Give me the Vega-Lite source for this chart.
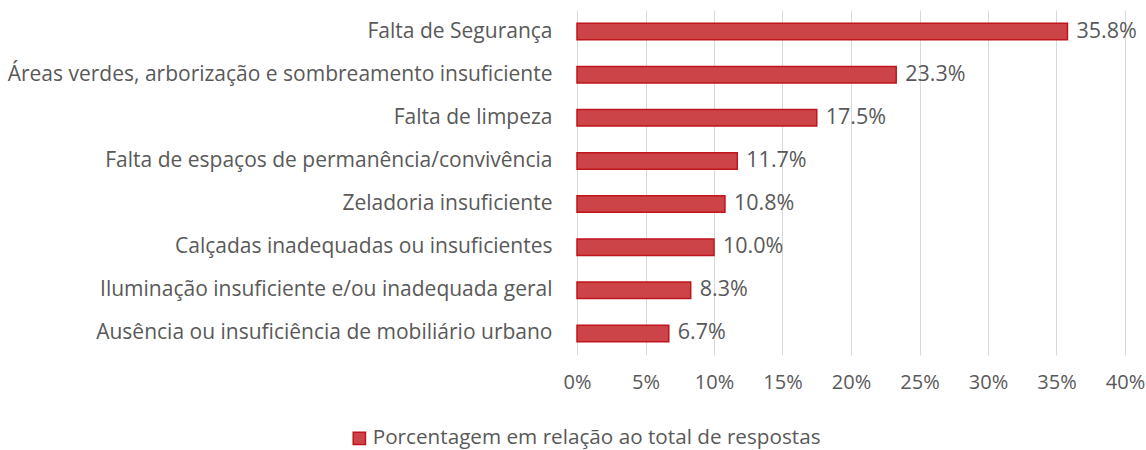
{
  "$schema": "https://vega.github.io/schema/vega-lite/v6.json",
  "width": 548,
  "height": 345,
  "autosize": {"type": "none"},
  "padding": {"left": 577, "top": 10, "right": 21, "bottom": 95},
  "background": "white",
  "config": {
    "view": {"stroke": null},
    "font": "Open Sans",
    "axis": {"labelFont": "Open Sans", "labelColor": "#595959", "labelFontSize": 20},
    "legend": {"labelFont": "Open Sans", "labelColor": "#595959", "labelFontSize": 20.7}
  },
  "data": {
    "values": [
      {"categoria": "Falta de Segurança", "valor": 0.358},
      {"categoria": "Áreas verdes, arborização e sombreamento insuficiente", "valor": 0.233},
      {"categoria": "Falta de limpeza", "valor": 0.175},
      {"categoria": "Falta de espaços de permanência/convivência", "valor": 0.117},
      {"categoria": "Zeladoria insuficiente", "valor": 0.108},
      {"categoria": "Calçadas inadequadas ou insuficientes", "valor": 0.100},
      {"categoria": "Iluminação insuficiente e/ou inadequada geral", "valor": 0.083},
      {"categoria": "Ausência ou insuficiência de mobiliário urbano", "valor": 0.067}
    ]
  },
  "encoding": {
    "y": {
      "field": "categoria",
      "type": "nominal",
      "sort": null,
      "title": null,
      "scale": {"paddingInner": 0.62, "paddingOuter": 0.31},
      "axis": {"domain": false, "ticks": false, "labelPadding": 25, "labelLimit": 700, "labelFontSize": 21}
    },
    "x": {
      "field": "valor",
      "type": "quantitative",
      "title": null,
      "scale": {"domain": [0, 0.4], "nice": false},
      "axis": {"format": ".0%", "values": [0, 0.05, 0.1, 0.15, 0.2, 0.25, 0.3, 0.35, 0.4], "domain": false, "ticks": false, "gridColor": "#d9d9d9", "labelPadding": 17, "labelFlush": false}
    }
  },
  "layer": [
    {
      "mark": {"type": "bar", "stroke": "#c0151c", "strokeWidth": 1.5},
      "encoding": {
        "color": {
          "datum": "Porcentagem em relação ao total de respostas",
          "type": "nominal",
          "scale": {"range": ["#cd4448"]},
          "legend": {"title": null, "orient": "none", "legendX": -228, "legendY": 418, "symbolType": "square", "symbolSize": 150, "symbolStrokeColor": "#c0151c", "symbolStrokeWidth": 1.5, "labelOffset": 3, "labelLimit": 800}
        }
      }
    },
    {
      "mark": {"type": "text", "align": "left", "dx": 9, "fontSize": 21.5, "color": "#595959", "font": "Open Sans"},
      "encoding": {
        "text": {"field": "valor", "type": "quantitative", "format": ".1%"}
      }
    }
  ]
}
